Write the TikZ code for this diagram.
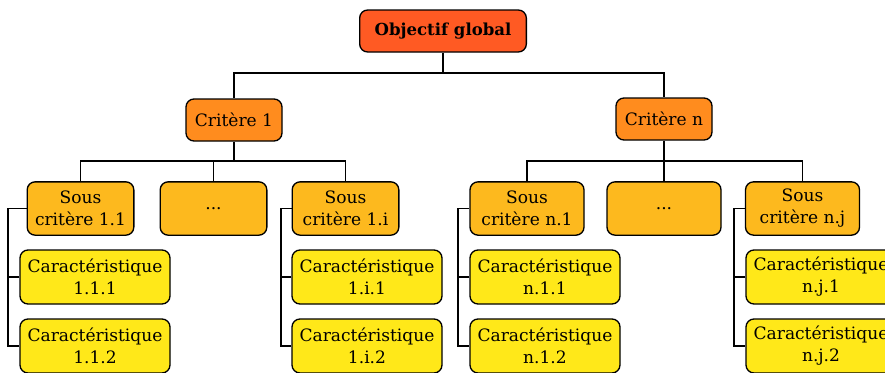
\documentclass[tikz,border=0pt]{standalone}
\usepackage{fontspec}
\setmainfont{DejaVu Serif}
\definecolor{objcol}{RGB}{255,90,35}
\definecolor{critcol}{RGB}{255,140,30}
\definecolor{souscol}{RGB}{253,185,30}
\definecolor{caraccol}{RGB}{255,232,25}
\begin{document}
\begin{tikzpicture}
        [x=0.75pt,y=-0.75pt,
        every node/.style={rectangle,draw,rounded corners=6pt,line width=1pt,inner sep=0pt,align=center,
            font=\fontsize{12.8}{16.5}\selectfont},
        obj/.style={fill=objcol,minimum width=125pt,minimum height=31.5pt,font=\fontsize{12.4}{16.5}\selectfont\bfseries},
        crit/.style={fill=critcol,minimum width=72pt,minimum height=31.5pt},
        sousl/.style={fill=souscol,minimum width=80pt,minimum height=40pt},
        sousr/.style={fill=souscol,minimum width=85.5pt,minimum height=40pt},
        carac/.style={fill=caraccol,minimum width=112.5pt,minimum height=40.5pt},
        link/.style={line width=1pt},
        ]
        \useasboundingbox (0,0) rectangle (885,372);
        \node[obj] (obj) at (443, 31) {Objectif global};
        \node[crit] (crit-1) at (234, 120) {Critère 1};
        \node[crit] (crit-n) at (664, 119) {Critère n};
        \node[sousl] (sous-1-1) at (80.5, 208.5) {Sous\\critère 1.1};
        \node[sousl] (dots-1) at (213.5, 208.5) {...};
        \node[sousl] (sous-1-i) at (345.5, 208.5) {Sous\\critère 1.i};
        \node[sousr] (sous-n-1) at (527, 208.5) {Sous\\critère n.1};
        \node[sousr] (dots-n) at (664, 208.5) {...};
        \node[sousr] (sous-n-j) at (802.5, 208.5) {Sous\\critère n.j};
        \node[carac] (carac-1-1-1) at (95, 277) {Caractéristique\\1.1.1};
        \node[carac] (carac-1-1-2) at (95, 346) {Caractéristique\\1.1.2};
        \node[carac] (carac-1-i-1) at (367, 277) {Caractéristique\\1.i.1};
        \node[carac] (carac-1-i-2) at (367, 346) {Caractéristique\\1.i.2};
        \node[carac] (carac-n-1-1) at (545, 277) {Caractéristique\\n.1.1};
        \node[carac] (carac-n-1-2) at (545, 346) {Caractéristique\\n.1.2};
        \node[carac] (carac-n-j-1) at (821, 277) {Caractéristique\\n.j.1};
        \node[carac] (carac-n-j-2) at (821, 346) {Caractéristique\\n.j.2};
        % junctions
        \coordinate (j-0) at (443, 73);
        \coordinate (j-1) at (234, 161);
        \coordinate (j-n) at (664, 161);
        \coordinate (b-1-1) at (8, 0);
        \coordinate (b-1-i) at (281, 0);
        \coordinate (b-n-1) at (458, 0);
        \coordinate (b-n-j) at (734, 0);
        % tree
        \draw[link] (obj.south) -- (j-0);
        \draw[link] (crit-1.north) |- (j-0) -| (crit-n.north);
        \draw[link] (crit-1.south) -- (j-1);
        \draw[link] (sous-1-1.north) |- (j-1) -| (sous-1-i.north);
        \draw[link] (dots-1.north) -- (dots-1.north |- j-1);
        \draw[link] (crit-n.south) -- (j-n);
        \draw[link] (sous-n-1.north) |- (j-n) -| (sous-n-j.north);
        \draw[link] (dots-n.north) -- (dots-n.north |- j-n);
        % brackets
        \foreach \s in {1-1,1-i,n-1,n-j} {
            \draw[link] (sous-\s.west) -- (sous-\s.west -| b-\s) |- (carac-\s-2.west);
            \draw[link] (carac-\s-1.west) -- (carac-\s-1.west -| b-\s);
        }
    \end{tikzpicture}
\end{document}
